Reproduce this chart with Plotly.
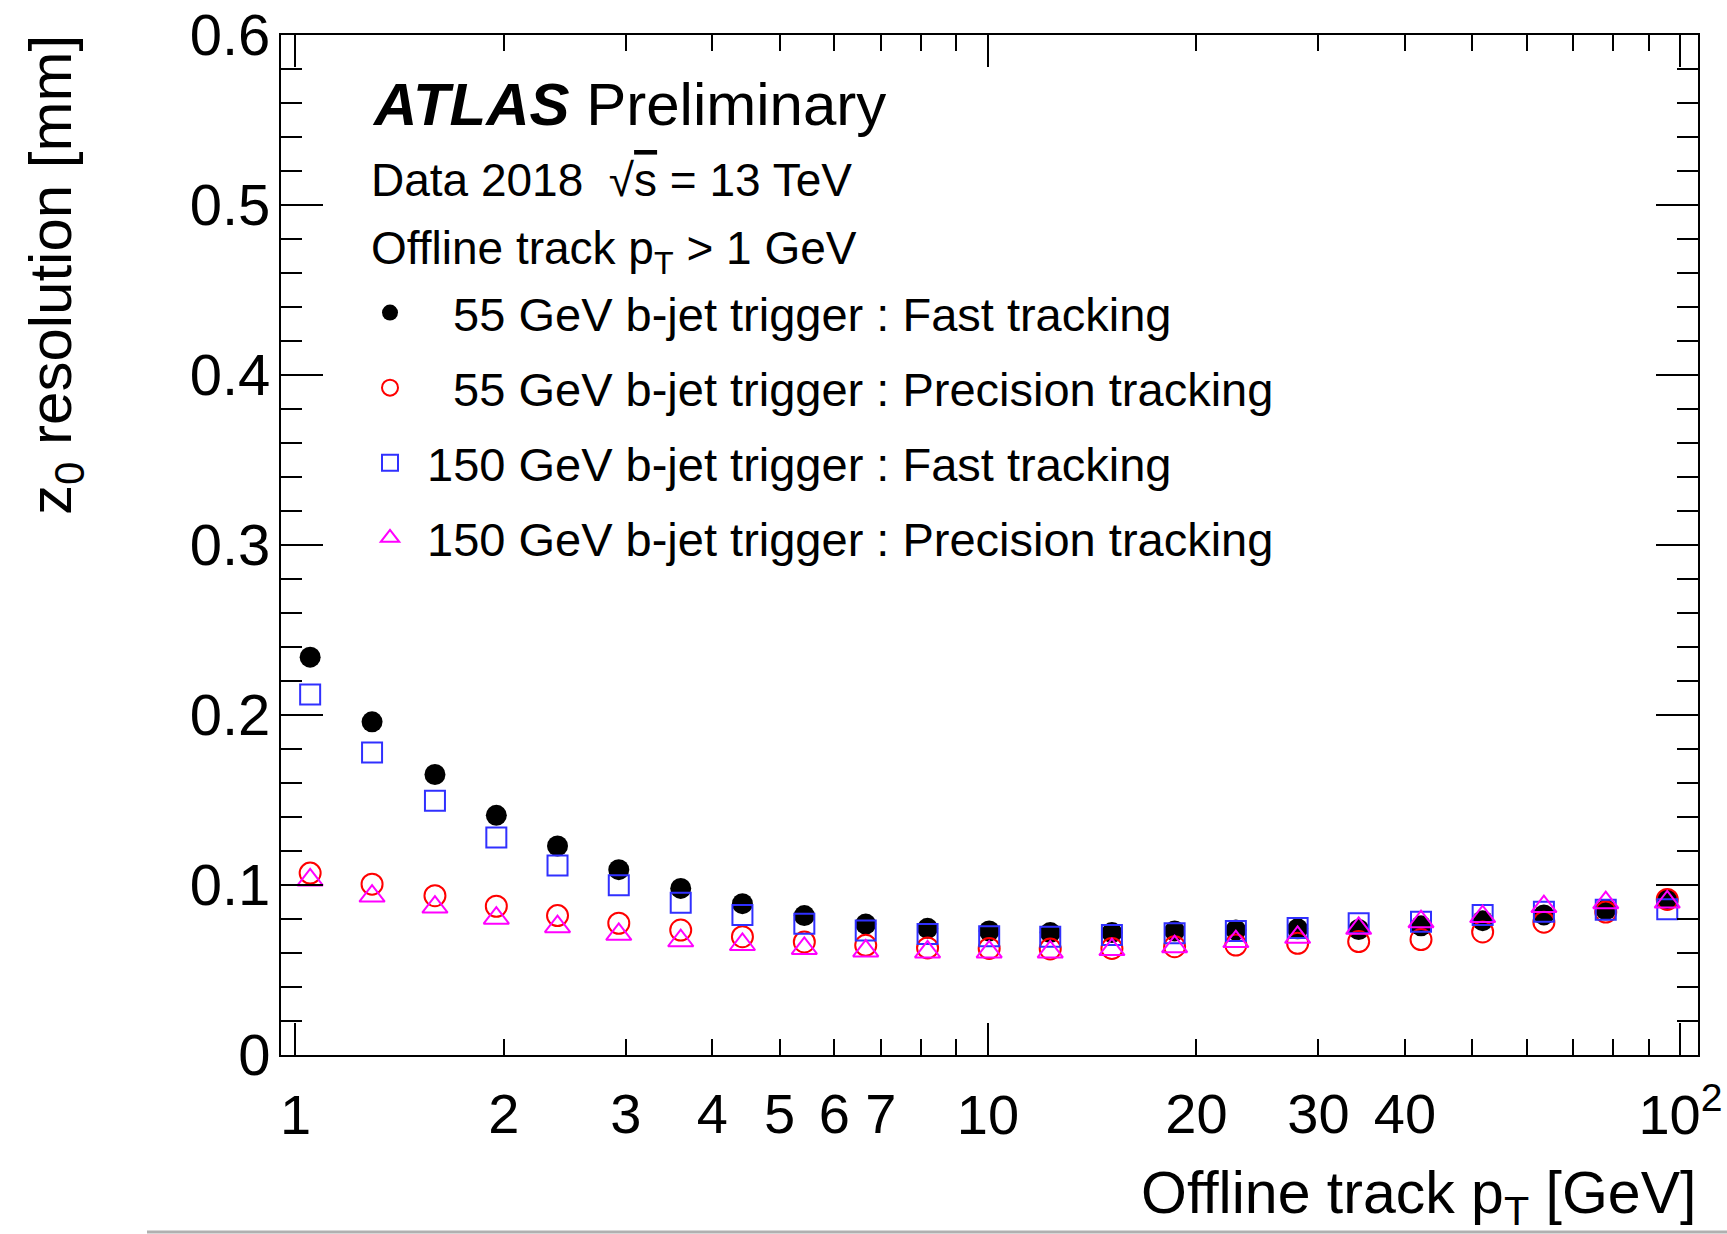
import math
import plotly.graph_objects as go

# ---------------- data ----------------
pt_centers = [1.05, 1.29, 1.59, 1.95, 2.39, 2.93, 3.60, 4.42, 5.43, 6.66, 8.18,
              10.04, 12.3, 15.1, 18.6, 22.8, 28.0, 34.3, 42.2, 51.8, 63.5, 78.0, 95.7]

fast_55 = [0.234, 0.196, 0.165, 0.141, 0.123, 0.109, 0.098, 0.089, 0.082, 0.077, 0.0745,
           0.073, 0.072, 0.072, 0.073, 0.0735, 0.0742, 0.0738, 0.076, 0.079, 0.0824, 0.0854, 0.0915]
prec_55 = [0.107, 0.1005, 0.0937, 0.0875, 0.082, 0.0775, 0.0735, 0.0696, 0.0665, 0.0645, 0.063,
           0.0627, 0.0624, 0.0627, 0.0637, 0.0647, 0.0657, 0.0667, 0.0679, 0.0724, 0.0781, 0.0841, 0.0915]
fast_150 = [0.212, 0.178, 0.1495, 0.128, 0.1115, 0.0998, 0.0896, 0.0824, 0.0772, 0.0732, 0.0712,
            0.0698, 0.0695, 0.0706, 0.0716, 0.073, 0.0747, 0.0775, 0.0784, 0.0823, 0.0843, 0.0855, 0.0857]
prec_150 = [0.103, 0.0935, 0.087, 0.0805, 0.0755, 0.071, 0.0672, 0.065, 0.0627, 0.0612, 0.0606,
            0.0606, 0.0606, 0.062, 0.0637, 0.0667, 0.0692, 0.0745, 0.0784, 0.0814, 0.0873, 0.0896, 0.090]

series_names = ["  55 GeV b-jet trigger : Fast tracking",
                "  55 GeV b-jet trigger : Precision tracking",
                "150 GeV b-jet trigger : Fast tracking",
                "150 GeV b-jet trigger : Precision tracking"]

y_tickvals = [0, 0.1, 0.2, 0.3, 0.4, 0.5, 0.6]
y_ticktext = ["0", "0.1", "0.2", "0.3", "0.4", "0.5", "0.6"]
x_major_vals = [1, 10, 100]
x_major_text = ["1", "10", "10<sup>2</sup>"]
x_minor_vals = [2, 3, 4, 5, 6, 7, 8, 9, 20, 30, 40, 50, 60, 70, 80, 90]
x_label_vals = [2, 3, 4, 5, 6, 7, 20, 30, 40]
x_label_text = ["2", "3", "4", "5", "6", "7", "20", "30", "40"]

# ---------------- layout geometry ----------------
W, H = 1727, 1234
L, R, T, B = 281, 1698, 35, 1055
FONT = "Liberation Sans, Arial, Helvetica, sans-serif"
XRANGE = [math.log10(0.953), math.log10(106.0)]


def px(x):
    return (x - L) / (R - L)


def py(y):
    return (B - y) / (B - T)


fig = go.Figure()

styles = [
    dict(symbol="circle", size=21, color="black", line=dict(width=0)),
    dict(symbol="circle-open", size=21, color="#ff0000", line=dict(width=2, color="#ff0000")),
    dict(symbol="square-open", size=20, color="#3030ff", line=dict(width=2, color="#3030ff")),
    dict(symbol="triangle-up-open", size=22, color="#ff00ff", line=dict(width=2, color="#ff00ff")),
]
all_series = [fast_55, prec_55, fast_150, prec_150]
for i, (name, vals) in enumerate(zip(series_names, all_series)):
    fig.add_trace(go.Scatter(
        x=pt_centers, y=vals, mode="markers", name=name,
        marker=styles[i], legendgroup=f"g{i}", cliponaxis=False,
        # last series sits on the overlaid label axis (same scale) so that axis is drawn
        xaxis="x2" if i == 3 else "x", yaxis="y",
    ))

ytick_font = dict(family=FONT, size=58, color="black")
xtick_font = dict(family=FONT, size=56, color="black")

fig.update_layout(
    width=W, height=H, autosize=False,
    margin=dict(l=L, r=W - R, t=T, b=H - B, pad=0),
    paper_bgcolor="white", plot_bgcolor="white",
    font=dict(family=FONT, color="black"),
    showlegend=True,
    legend=dict(
        x=px(353), y=py(275.5), xanchor="left", yanchor="top",
        bgcolor="rgba(0,0,0,0)", borderwidth=0,
        font=dict(family=FONT, size=47, color="black"),
        itemwidth=64, tracegroupgap=11, itemsizing="trace",
    ),
    xaxis=dict(
        type="log", range=XRANGE, tickmode="array", automargin=False,
        tickvals=x_major_vals, ticktext=x_major_text,
        ticks="inside", ticklen=32, tickwidth=2, tickcolor="black",
        showline=True, linecolor="black", linewidth=2, mirror="ticks",
        showgrid=False, zeroline=False, tickfont=xtick_font, ticklabelstandoff=10,
        minor=dict(tickmode="array", tickvals=x_minor_vals, ticks="inside",
                   ticklen=16, tickwidth=2, tickcolor="black", showgrid=False),
    ),
    xaxis2=dict(
        type="log", range=XRANGE, overlaying="x", matches="x", anchor="y", side="bottom",
        automargin=False, tickmode="array", tickvals=x_label_vals, ticktext=x_label_text,
        ticks="", showline=False, showgrid=False, zeroline=False,
        tickfont=xtick_font, ticklabelstandoff=21,
    ),
    yaxis=dict(
        range=[0, 0.6], tickmode="array", tickvals=y_tickvals, ticktext=y_ticktext,
        automargin=False,
        ticks="inside", ticklen=42, tickwidth=2, tickcolor="black",
        showline=True, linecolor="black", linewidth=2, mirror="ticks",
        showgrid=False, zeroline=False, tickfont=ytick_font, ticklabelstandoff=-3,
        minor=dict(tickmode="linear", tick0=0, dtick=0.02, ticks="inside",
                   ticklen=21, tickwidth=2, tickcolor="black", showgrid=False),
    ),
)

annotations = [
    dict(text="<b><i>ATLAS</i></b> Preliminary", x=px(370), y=py(104.8), size=60),
    dict(text="Data 2018  \u221a<span style='text-decoration:overline'>s</span> = 13 TeV",
         x=px(369), y=py(179.5), size=46),
    dict(text="Offline track p<sub>T</sub> > 1 GeV", x=px(369), y=py(251), size=46),
]
for a in annotations:
    fig.add_annotation(text=a["text"], x=a["x"], y=a["y"], xref="paper", yref="paper",
                       xanchor="left", yanchor="middle", showarrow=False,
                       font=dict(family=FONT, size=a["size"], color="black"))

# axis titles (ROOT style, aligned to the axis ends)
fig.add_annotation(text="Offline track p<sub>T</sub> [GeV]", x=1.0, y=py(1197),
                   xref="paper", yref="paper", xanchor="right", yanchor="middle",
                   showarrow=False, font=dict(family=FONT, size=59, color="black"))
fig.add_annotation(text="z<sub>0</sub> resolution [mm]", x=px(55), y=py(33),
                   xref="paper", yref="paper", xanchor="center", yanchor="top",
                   textangle=-90, showarrow=False,
                   font=dict(family=FONT, size=60, color="black"))

# grey rule at the bottom edge of the reference image
fig.add_shape(type="line", xref="paper", yref="paper",
              x0=px(147), x1=px(1727), y0=py(1232), y1=py(1232),
              line=dict(color="#b0b0b0", width=3))

fig.write_html("out.html")
